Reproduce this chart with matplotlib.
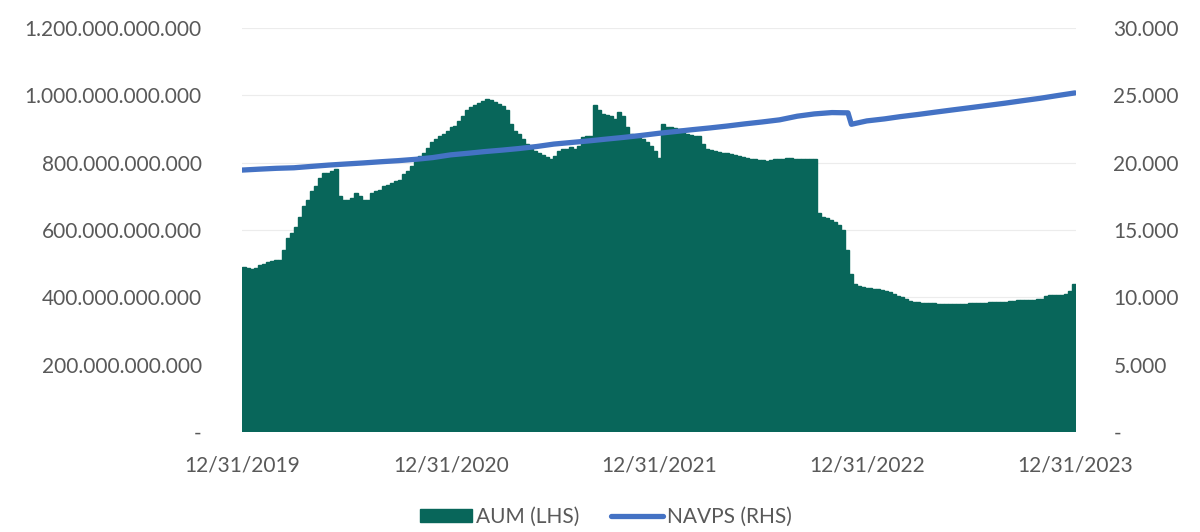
import matplotlib
matplotlib.use('Agg')
import matplotlib.pyplot as plt
from matplotlib.ticker import FuncFormatter, FixedLocator
import pandas as pd

# weekly AUM, billions, starting 12/31/2019
aum_2020 = [490, 488, 485, 488, 495, 500, 505, 508, 510, 512, 540, 575, 590, 610, 640, 670,
            690, 715, 730, 755, 770, 770, 775, 780, 700, 690, 690, 695, 710, 700, 690, 690,
            710, 715, 720, 730, 735, 740, 745, 750, 765, 775, 790, 805, 820, 830, 845, 860,
            870, 880, 885, 895]
aum_2021 = [905, 910, 925, 940, 955, 965, 970, 978, 982, 988, 985, 980, 975, 968, 955, 915,
            895, 885, 870, 855, 840, 835, 828, 822, 818, 812, 820, 835, 840, 842, 848, 840,
            850, 875, 878, 880, 970, 955, 945, 942, 940, 930, 950, 940, 905, 885, 878, 872,
            870, 862, 850, 835]
aum_2022 = [815, 915, 905, 905, 902, 900, 900, 885, 882, 880, 878, 855, 842, 838, 835, 832,
            830, 828, 826, 822, 820, 818, 815, 812, 810, 808, 808, 806, 808, 810, 812, 812,
            814, 815, 812, 812, 810, 812, 812, 810, 650, 640, 635, 630, 625, 615, 600, 540,
            470, 440, 435, 430]
aum_2023 = [428, 428, 426, 425, 422, 420, 415, 410, 405, 400, 395, 390, 386, 385, 384, 383,
            383, 382, 381, 381, 380, 380, 380, 381, 381, 381, 382, 382, 382, 383, 384, 385,
            385, 385, 386, 387, 388, 390, 391, 392, 392, 392, 393, 394, 395, 405, 406, 406,
            406, 407, 410, 420, 440]

nav_dates = ['2019-12-31',
             '2020-01-31', '2020-02-29', '2020-03-31', '2020-04-30', '2020-05-31', '2020-06-30',
             '2020-07-31', '2020-08-31', '2020-09-30', '2020-10-31', '2020-11-30', '2020-12-31',
             '2021-01-31', '2021-02-28', '2021-03-31', '2021-04-30', '2021-05-31', '2021-06-30',
             '2021-07-31', '2021-08-31', '2021-09-30', '2021-10-31', '2021-11-30', '2021-12-31',
             '2022-01-31', '2022-02-28', '2022-03-31', '2022-04-30', '2022-05-31', '2022-06-30',
             '2022-07-31', '2022-08-31', '2022-09-30', '2022-10-31', '2022-11-28', '2022-12-04',
             '2022-12-31',
             '2023-01-31', '2023-02-28', '2023-03-31', '2023-04-30', '2023-05-31', '2023-06-30',
             '2023-07-31', '2023-08-31', '2023-09-30', '2023-10-31', '2023-11-30', '2023-12-31']
navps = [19.45,
         19.52, 19.58, 19.62, 19.72, 19.82, 19.90, 19.98, 20.07, 20.15, 20.25, 20.38, 20.58,
         20.70, 20.82, 20.93, 21.05, 21.20, 21.38, 21.50, 21.62, 21.75, 21.88, 22.02, 22.18,
         22.32, 22.45, 22.58, 22.72, 22.88, 23.02, 23.18, 23.45, 23.62, 23.72, 23.70, 22.85,
         23.10,
         23.25, 23.42, 23.58, 23.75, 23.92, 24.08, 24.25, 24.42, 24.60, 24.78, 24.98, 25.18]

year_ends = ['2019-12-31', '2020-12-31', '2021-12-31', '2022-12-31', '2023-12-31']

BAR_COLOR = '#08665a'
LINE_COLOR = '#4472c4'
TEXT_COLOR = '#595959'

plt.rcParams['font.family'] = ['Lato', 'DejaVu Sans']
plt.rcParams['font.size'] = 15

aum = [v * 1e9 for v in aum_2020 + aum_2021 + aum_2022 + aum_2023]
weeks = pd.date_range('2019-12-31', periods=len(aum), freq='7D')
x_left, x_right = pd.Timestamp('2019-12-31'), pd.Timestamp('2024-01-02')

fig = plt.figure(figsize=(12, 5.32), dpi=100)
ax = fig.add_axes([242 / 1200, 1 - 432 / 532, (1076 - 242) / 1200, (432 - 28) / 532])
ax.bar(weeks, aum, width=7, align='edge', color=BAR_COLOR, edgecolor=BAR_COLOR,
       linewidth=1.0, label='AUM (LHS)', zorder=2)
ax.set_ylim(0, 1.2e12)
ax.yaxis.set_major_locator(FixedLocator([i * 2e11 for i in range(7)]))
ax.yaxis.set_major_formatter(FuncFormatter(
    lambda v, p: '-' if v == 0 else f'{v:,.0f}'.replace(',', '.')))
ax.grid(True, axis='y', color='#ececec', linewidth=0.8, zorder=0)
ax.set_axisbelow(True)

xt = pd.to_datetime(year_ends)
ax.set_xlim(x_left, x_right)
ax.set_xticks(xt)
ax.set_xticklabels([d.strftime('%m/%d/%Y') for d in xt])

ax2 = ax.twinx()
ax2.plot(pd.to_datetime(nav_dates), navps, color=LINE_COLOR, linewidth=3.8,
         solid_capstyle='round', label='NAVPS (RHS)', zorder=3)
ax2.set_ylim(0, 30)
ax2.yaxis.set_major_locator(FixedLocator([0, 5, 10, 15, 20, 25, 30]))
ax2.yaxis.set_major_formatter(FuncFormatter(
    lambda v, p: '-' if v == 0 else f'{int(v)}.000'))
ax2.set_xlim(x_left, x_right)

for a in (ax, ax2):
    for s in a.spines.values():
        s.set_visible(False)
    a.tick_params(length=0, colors=TEXT_COLOR, labelsize=15)
ax.tick_params(axis='y', pad=29)
ax2.tick_params(axis='y', pad=27)
ax.tick_params(axis='x', pad=17)

h1, l1 = ax.get_legend_handles_labels()
h2, l2 = ax2.get_legend_handles_labels()
leg = fig.legend(h1 + h2, l1 + l2, loc='center', bbox_to_anchor=(0.505, 1 - 517 / 532),
                 ncol=2, frameon=False, handlelength=2.5, handleheight=0.6,
                 columnspacing=1.5, handletextpad=0.2, fontsize=15)
for t in leg.get_texts():
    t.set_color(TEXT_COLOR)

fig.savefig('out.png', dpi=100)
